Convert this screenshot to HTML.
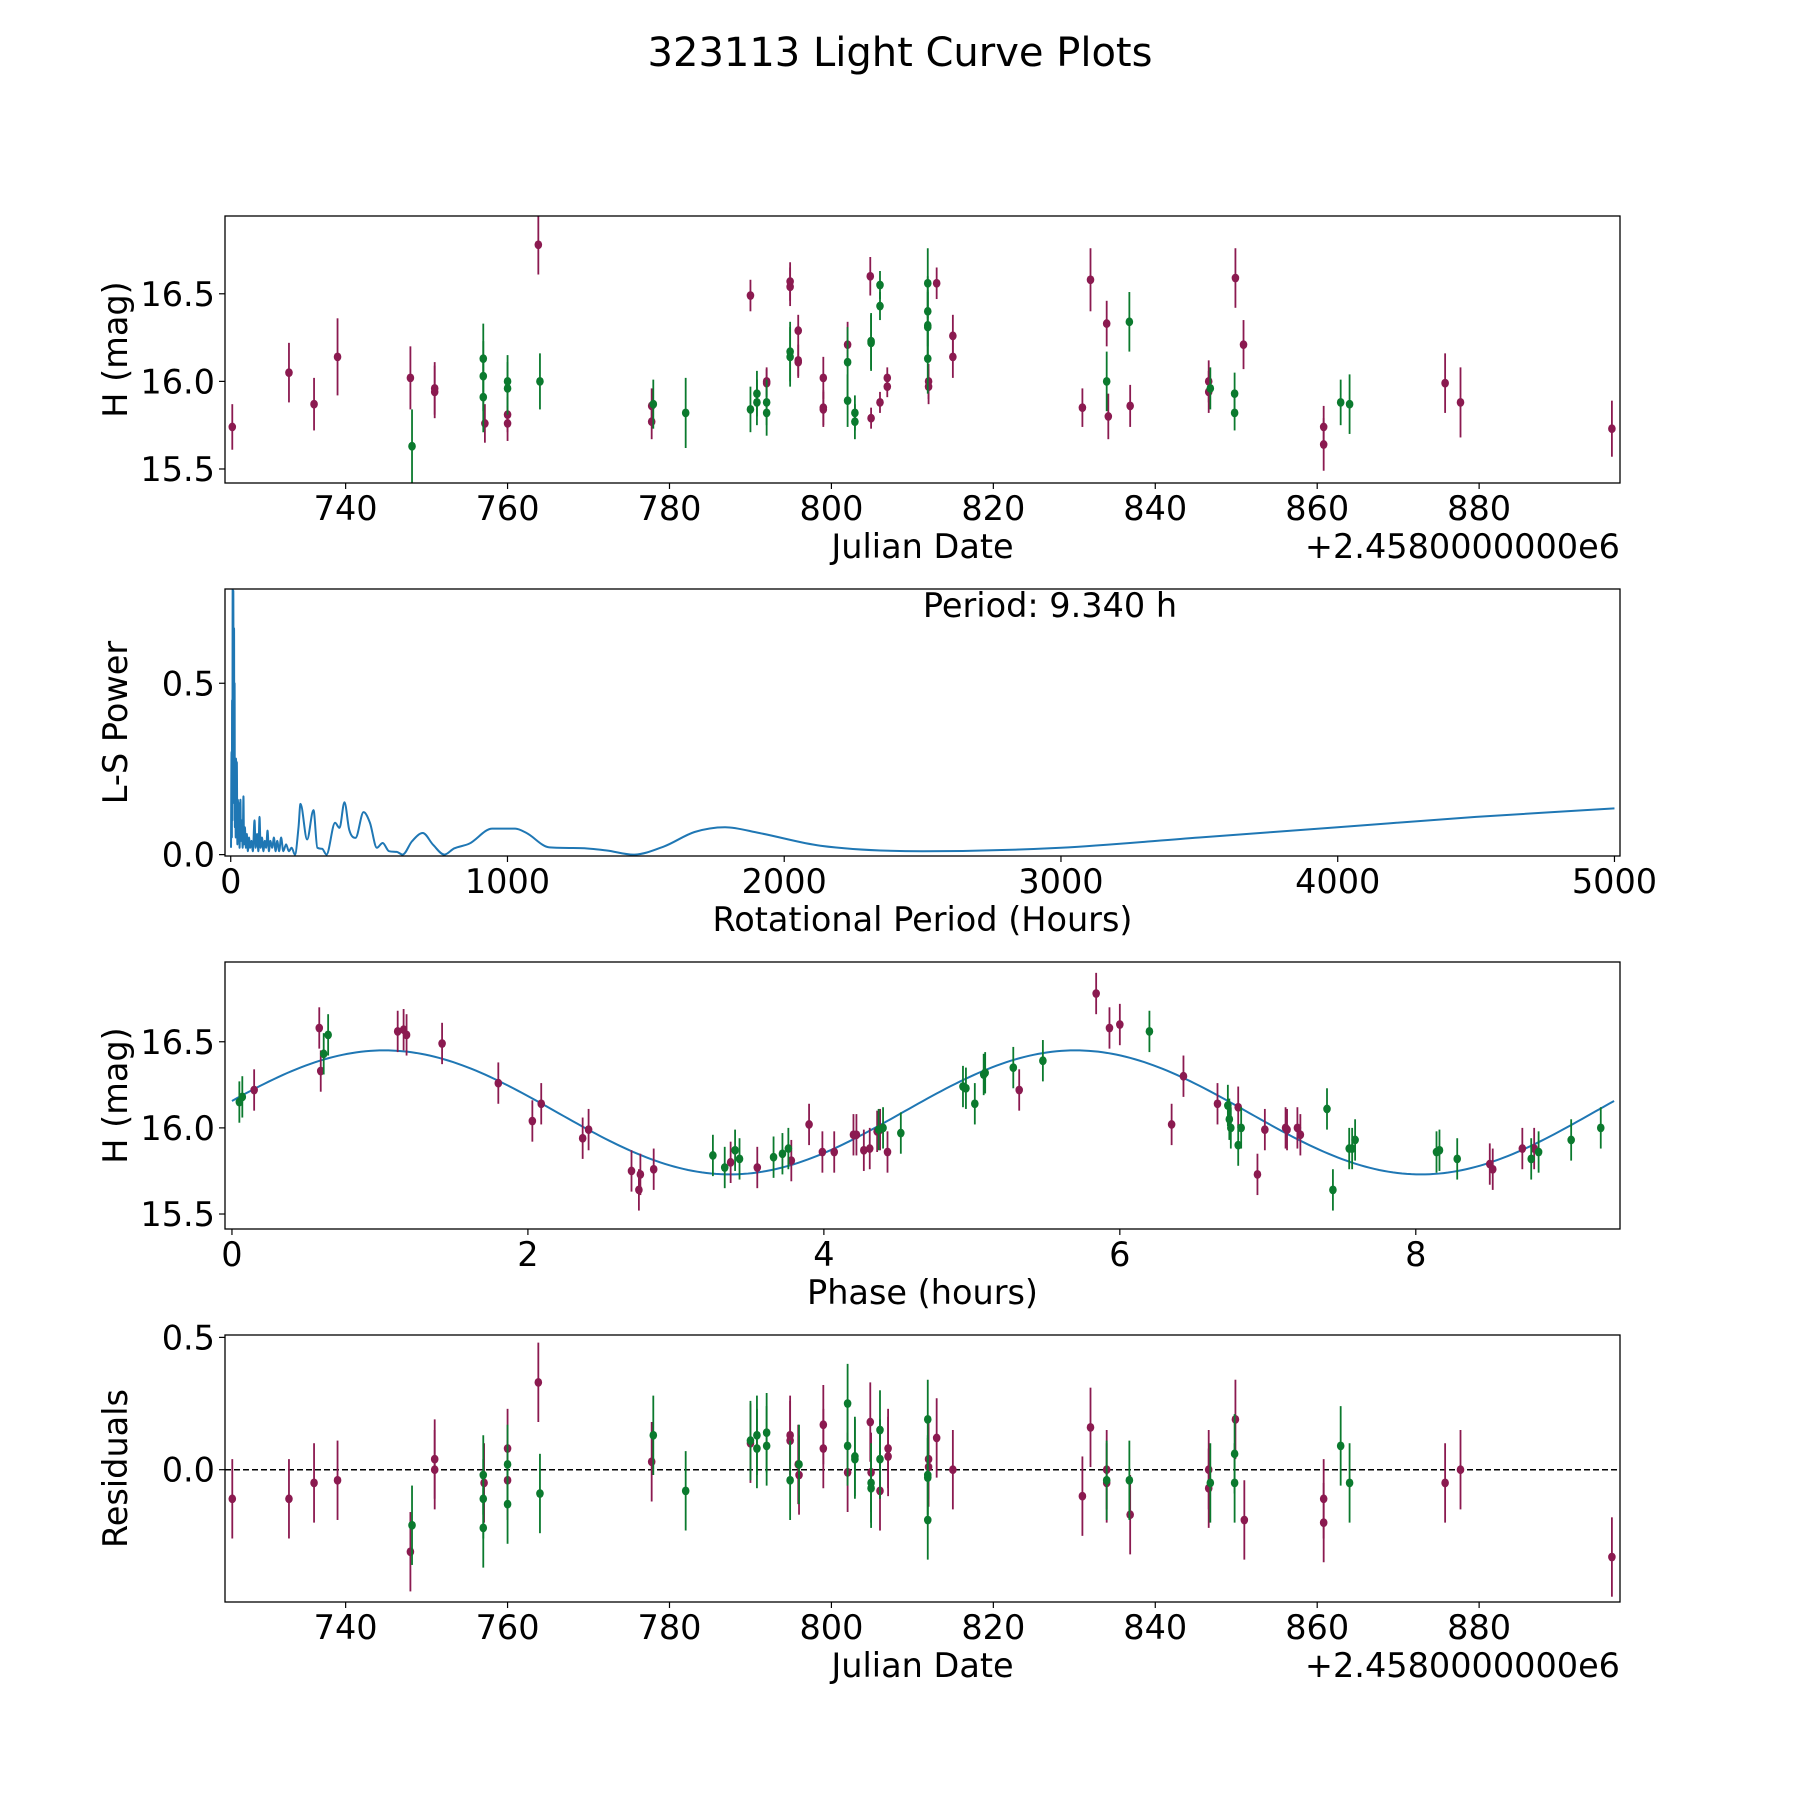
<!DOCTYPE html>
<html><head><meta charset="utf-8"><style>
html,body{margin:0;padding:0;background:#fff}
svg{display:block;font-family:"DejaVu Sans","Liberation Sans",sans-serif}
</style></head><body>
<svg id="fig" width="1800" height="1800" viewBox="0 0 1800 1800" xmlns="http://www.w3.org/2000/svg">
<rect width="1800" height="1800" fill="#fff"/>
<text x="900" y="66" font-size="40" text-anchor="middle">323113 Light Curve Plots</text>
</svg>
<script>
// ---- Panel 1: raw light curve ----
const mJD=[726.0,733.0,736.1,739.0,748.0,751.0,751.0,757.2,760.0,760.0,763.8,777.8,777.8,790.0,794.9,794.9,795.9,795.9,795.9,792.0,792.0,799.0,799.0,799.0,802.0,804.8,804.9,806.0,806.9,806.9,812.0,812.0,813.0,815.0,815.0,831.0,832.0,834.0,834.2,836.9,846.6,846.6,849.9,850.9,860.8,860.8,875.8,877.7,896.4];
const mH=[15.74,16.05,15.87,16.14,16.02,15.96,15.94,15.76,15.81,15.76,16.78,15.86,15.77,16.49,16.57,16.54,16.29,16.12,16.11,15.99,16.00,16.02,15.85,15.84,16.21,16.60,15.79,15.88,16.02,15.97,16.00,15.97,16.56,16.26,16.14,15.85,16.58,16.33,15.80,15.86,16.00,15.94,16.59,16.21,15.74,15.64,15.99,15.88,15.73];
const mE=[0.13,0.17,0.15,0.22,0.18,0.15,0.15,0.11,0.1,0.1,0.17,0.1,0.1,0.09,0.11,0.11,0.09,0.09,0.09,0.08,0.08,0.12,0.1,0.1,0.13,0.11,0.06,0.06,0.06,0.06,0.1,0.1,0.09,0.12,0.12,0.11,0.18,0.13,0.13,0.12,0.12,0.12,0.17,0.14,0.12,0.15,0.17,0.2,0.16];
const gJD=[748.2,757.0,757.0,757.0,760.0,760.0,764.0,778.0,782.0,790.0,790.8,790.8,792.0,792.0,794.9,794.9,802.0,802.0,802.9,802.9,804.9,804.9,806.0,806.0,811.9,811.9,811.9,811.9,811.9,834.0,836.8,846.8,849.8,849.8,862.9,864.0];
const gH=[15.63,16.13,16.03,15.91,16.00,15.96,16.00,15.87,15.82,15.84,15.93,15.88,15.88,15.82,16.17,16.14,16.11,15.89,15.82,15.77,16.23,16.22,16.55,16.43,16.56,16.40,16.32,16.31,16.13,16.00,16.34,15.96,15.93,15.82,15.88,15.87];
const gE=[0.21,0.2,0.2,0.2,0.15,0.15,0.16,0.14,0.2,0.13,0.13,0.13,0.13,0.13,0.17,0.17,0.2,0.15,0.1,0.1,0.16,0.16,0.08,0.08,0.2,0.2,0.2,0.2,0.2,0.17,0.17,0.12,0.12,0.1,0.13,0.17];
const jdTicks=[740,760,780,800,820,840,860,880];
const magTicks=[15.5,16.0,16.5];
// ---- Panel 2: periodogram ----
const lsPeriod=[1,3,4,5,6,7,8,9.34,10.5,12,13,14,15,16,18,19,21,22,24,26,28,30,32,35,37,40,43,46,48,51,55,58,62,66,70,75,80,86,90,95,100,104,108,113,118,123,128,133,138,143,150,156,162,168,175,182,190,200,210,220,232,245,252,276,299,313,330,346,377,393,411,428,451,480,503,528,549,572,600,621,655,694,731,772,807,862,945,1028,1069,1152,1262,1359,1455,1566,1676,1786,1910,2131,2500,3000,3500,4000,4500,5000];
const lsPower=[0.02,0.3,0.05,0.45,0.1,0.78,0.2,0.77,0.3,0.66,0.15,0.5,0.08,0.28,0.05,0.28,0.1,0.27,0.03,0.16,0.05,0.15,0.02,0.16,0.04,0.1,0.02,0.17,0.03,0.08,0.02,0.06,0.01,0.05,0.02,0.04,0.01,0.1,0.02,0.06,0.01,0.11,0.02,0.05,0.01,0.04,0.02,0.07,0.01,0.04,0.02,0.05,0.01,0.04,0.01,0.05,0.01,0.03,0.01,0.02,0.0,0.08,0.148,0.044,0.13,0.02,0.017,0.0,0.093,0.078,0.153,0.073,0.049,0.124,0.093,0.02,0.034,0.01,0.008,0.0,0.039,0.063,0.029,0.0,0.018,0.032,0.076,0.076,0.063,0.021,0.019,0.012,0.0,0.024,0.066,0.08,0.063,0.026,0.01,0.02,0.05,0.08,0.11,0.135];
const perTicks=[0,1000,2000,3000,4000,5000];
const powTicks=[0.0,0.5];
// ---- Panel 3: phased ----
const mPh=[0.15,0.59,0.60,1.12,1.16,1.18,1.42,1.8,2.03,2.09,2.37,2.41,2.7,2.75,2.76,2.85,3.37,3.55,3.78,3.9,3.99,4.07,4.2,4.22,4.27,4.31,4.38,4.43,4.36,5.32,5.84,5.93,6.0,6.35,6.43,6.66,6.8,6.93,6.98,7.12,7.13,7.2,7.22,8.5,8.52,8.72,8.8];
const mPhH=[16.22,16.58,16.33,16.56,16.57,16.54,16.49,16.26,16.04,16.14,15.94,15.99,15.75,15.64,15.73,15.76,15.80,15.77,15.81,16.02,15.86,15.86,15.96,15.96,15.87,15.88,15.99,15.86,15.98,16.22,16.78,16.58,16.60,16.02,16.30,16.14,16.12,15.73,15.99,16.00,15.99,16.00,15.96,15.79,15.76,15.88,15.88];
const gPh=[0.05,0.07,0.62,0.65,3.25,3.33,3.4,3.43,3.66,3.72,3.76,4.4,4.37,4.52,4.94,4.96,5.02,5.08,5.09,5.28,5.48,6.2,6.73,6.74,6.75,6.8,6.82,7.4,7.44,7.55,7.57,7.59,8.14,8.16,8.28,8.78,8.83,9.05,9.25];
const gPhH=[16.15,16.18,16.43,16.54,15.84,15.77,15.87,15.82,15.83,15.85,15.88,16.0,15.99,15.97,16.24,16.23,16.14,16.31,16.32,16.35,16.39,16.56,16.13,16.05,16.0,15.9,16.0,16.11,15.64,15.88,15.88,15.93,15.86,15.87,15.82,15.82,15.86,15.93,16.0];
const phTicks=[0,2,4,6,8];
const fitMean=16.09, fitAmp=0.36, fitPeak=1.03, fitHalfPeriod=4.67, fitPhaseMax=9.34;
// ---- Panel 4: residuals ----
const mResJD=[726,733,736.1,739,748,751,751,757.1,760,760,763.8,777.8,790,794.9,794.9,796,795.9,799,799,802,804.8,804.9,806,807,807,812,812,813,815,831,832,834,834,836.9,846.6,846.6,849.9,851,860.8,860.8,875.8,877.7,896.4];
const mRes=[-0.11,-0.11,-0.05,-0.04,-0.31,0.04,0.0,-0.05,0.08,-0.04,0.33,0.03,0.1,0.13,0.11,-0.02,0.02,0.17,0.08,-0.01,0.18,-0.01,-0.08,0.08,0.05,0.04,0.01,0.12,0.0,-0.1,0.16,0.0,-0.05,-0.17,0.0,-0.07,0.19,-0.19,-0.11,-0.2,-0.05,0.0,-0.33];
const gResJD=[748.2,757,757,757,760,760,764,778,782,790,790.8,790.8,792,792,794.9,796,802,802,802.9,802.9,804.9,804.9,806,806,811.9,811.9,811.9,811.9,834,836.8,846.8,849.8,849.8,862.9,864];
const gRes=[-0.21,-0.02,-0.11,-0.22,0.02,-0.13,-0.09,0.13,-0.08,0.11,0.13,0.08,0.14,0.09,-0.04,0.02,0.25,0.09,0.05,0.04,-0.05,-0.07,0.15,0.04,0.19,-0.02,-0.03,-0.19,-0.04,-0.04,-0.05,0.06,-0.05,0.09,-0.05];
const resTicks=[0.0,0.5];

const NS='http://www.w3.org/2000/svg';
const svg=document.getElementById('fig');
const MAG='#8b1a50', GRN='#0b7a2e', BLUE='#1f77b4';
const L=225,R=1620,PH=267,TOPS=[216,589,962,1335];
const FS=33.5;
function mk(tag,attrs,parent){const e=document.createElementNS(NS,tag);for(const k in attrs)e.setAttribute(k,attrs[k]);(parent||svg).appendChild(e);return e;}
function txt(s,attrs,parent){const e=mk('text',attrs,parent);e.textContent=s;return e;}
function lin(d0,d1,r0,r1){return v=>r0+(v-d0)/(d1-d0)*(r1-r0);}

function panel(idx,name,xlim,ylim,xt,yt,xfmt,yfmt,xlabel,ylabel,offset){
  const top=TOPS[idx],bot=top+PH;
  const g=mk('g',{});
  
  
  const sx=lin(xlim[0],xlim[1],L,R), sy=lin(ylim[0],ylim[1],bot,top);
  const ax=mk('g',{},g);
  
  
  xt.forEach(v=>{const x=sx(v);
    const t=mk('line',{x1:x,x2:x,y1:bot,y2:bot+6,stroke:'#000','stroke-width':1.2},ax);
    
    
    const l=txt(xfmt(v),{x:x,y:bot+37,'font-size':FS,'text-anchor':'middle'},ax);
    
    });
  yt.forEach(v=>{const y=sy(v);
    const t=mk('line',{x1:L-6,x2:L,y1:y,y2:y,stroke:'#000','stroke-width':1.2},ax);
    
    
    const l=txt(yfmt(v),{x:L-10,y:y+12,'font-size':FS,'text-anchor':'end'},ax);
    
    });
  const xl=txt(xlabel,{x:(L+R)/2,y:bot+75,'font-size':FS,'text-anchor':'middle'},ax);
  
  
  const yl=txt(ylabel,{x:0,y:0,'font-size':FS,'text-anchor':'middle',transform:`translate(127,${(top+bot)/2}) rotate(-90)`},ax);
  
  
  if(offset){const o=txt(offset,{x:R,y:bot+75,'font-size':FS,'text-anchor':'end'},ax);
    
    }
  const cid='clip'+idx;
  const cp=mk('clipPath',{id:cid},g);mk('rect',{x:L,y:top,width:R-L,height:PH},cp);
  const plot=mk('g',{'clip-path':`url(#${cid})`},g);
  return {g,plot,sx,sy,top,bot,finish:()=>{const fr=mk('rect',{x:L,y:top,width:R-L,height:PH,fill:'none',stroke:'#000','stroke-width':1.3},g);
    
    }};
}
function errPoints(P,xs,ys,es,col,nm,def){
  xs.forEach((xv,i)=>{const e=(es&&es[i]!==undefined)?es[i]:def;const x=P.sx(xv);
    const gg=mk('g',{},P.plot);
    
    
    mk('line',{x1:x,x2:x,y1:P.sy(ys[i]-e),y2:P.sy(ys[i]+e),stroke:col,'stroke-width':1.8},gg);
    mk('ellipse',{cx:x,cy:P.sy(ys[i]),rx:3.8,ry:4.4,fill:col},gg);});
}
function smoothPath(X,Y){
  const n=X.length,d=[],m=new Array(n);
  for(let i=0;i<n-1;i++)d.push((Y[i+1]-Y[i])/(X[i+1]-X[i]));
  m[0]=d[0];m[n-1]=d[n-2];
  for(let i=1;i<n-1;i++){m[i]=(d[i-1]*d[i]<=0)?0:(d[i-1]+d[i])/2;}
  for(let i=0;i<n-1;i++){if(d[i]===0){m[i]=0;m[i+1]=0;continue;}
    const a=m[i]/d[i],b=m[i+1]/d[i],s=a*a+b*b;if(s>9){const t=3/Math.sqrt(s);m[i]=t*a*d[i];m[i+1]=t*b*d[i];}}
  let p='M'+X[0].toFixed(2)+' '+Y[0].toFixed(2);
  for(let i=0;i<n-1;i++){const h=X[i+1]-X[i];
    p+=` C${(X[i]+h/3).toFixed(2)} ${(Y[i]+m[i]*h/3).toFixed(2)} ${(X[i+1]-h/3).toFixed(2)} ${(Y[i+1]-m[i+1]*h/3).toFixed(2)} ${X[i+1].toFixed(2)} ${Y[i+1].toFixed(2)}`;}
  return p;
}
const f1=v=>v.toFixed(1), f0=v=>String(v);

// Panel 1
let P=panel(0,'light-curve-panel',[725.1,897.4],[15.42,16.944],jdTicks,magTicks,f0,f1,'Julian Date','H (mag)','+2.4580000000e6');
errPoints(P,mJD,mH,mE,MAG,'observation-point-filter-1',0.12);
errPoints(P,gJD,gH,gE,GRN,'observation-point-filter-2',0.12);
P.finish();

// Panel 2
P=panel(1,'periodogram-panel',[-20.7,5020],[-0.004,0.775],perTicks,powTicks,f0,f1,'Rotational Period (Hours)','L-S Power',null);
const ls=mk('path',{d:smoothPath(lsPeriod.map(P.sx),lsPower.map(P.sy)),fill:'none',stroke:BLUE,'stroke-width':2,'stroke-linejoin':'round'},P.plot);


const pt=txt('Period: 9.340 h',{x:1050,y:617,'font-size':FS,'text-anchor':'middle'},P.g);


P.finish();

// Panel 3
P=panel(2,'phased-curve-panel',[-0.047,9.38],[15.413,16.963],phTicks,magTicks,f0,f1,'Phase (hours)','H (mag)',null);
let pts=[];for(let k=0;k<=300;k++){const ph=fitPhaseMax*k/300;pts.push((k?'L':'M')+P.sx(ph).toFixed(2)+' '+P.sy(fitMean+fitAmp*Math.cos(2*Math.PI*(ph-fitPeak)/fitHalfPeriod)).toFixed(2));}
const fit=mk('path',{d:pts.join(' '),fill:'none',stroke:BLUE,'stroke-width':2},P.plot);


errPoints(P,mPh,mPhH,null,MAG,'phased-point-filter-1',0.12);
errPoints(P,gPh,gPhH,null,GRN,'phased-point-filter-2',0.12);
P.finish();

// Panel 4
P=panel(3,'residuals-panel',[725.1,897.4],[-0.5,0.509],jdTicks,resTicks,f0,f1,'Julian Date','Residuals','+2.4580000000e6');
const zl=mk('line',{x1:L,x2:R,y1:P.sy(0),y2:P.sy(0),stroke:'#000','stroke-width':1.5,'stroke-dasharray':'6,3'},P.plot);


errPoints(P,mResJD,mRes,null,MAG,'residual-point-filter-1',0.15);
errPoints(P,gResJD,gRes,null,GRN,'residual-point-filter-2',0.15);
P.finish();
</script>
</body></html>
